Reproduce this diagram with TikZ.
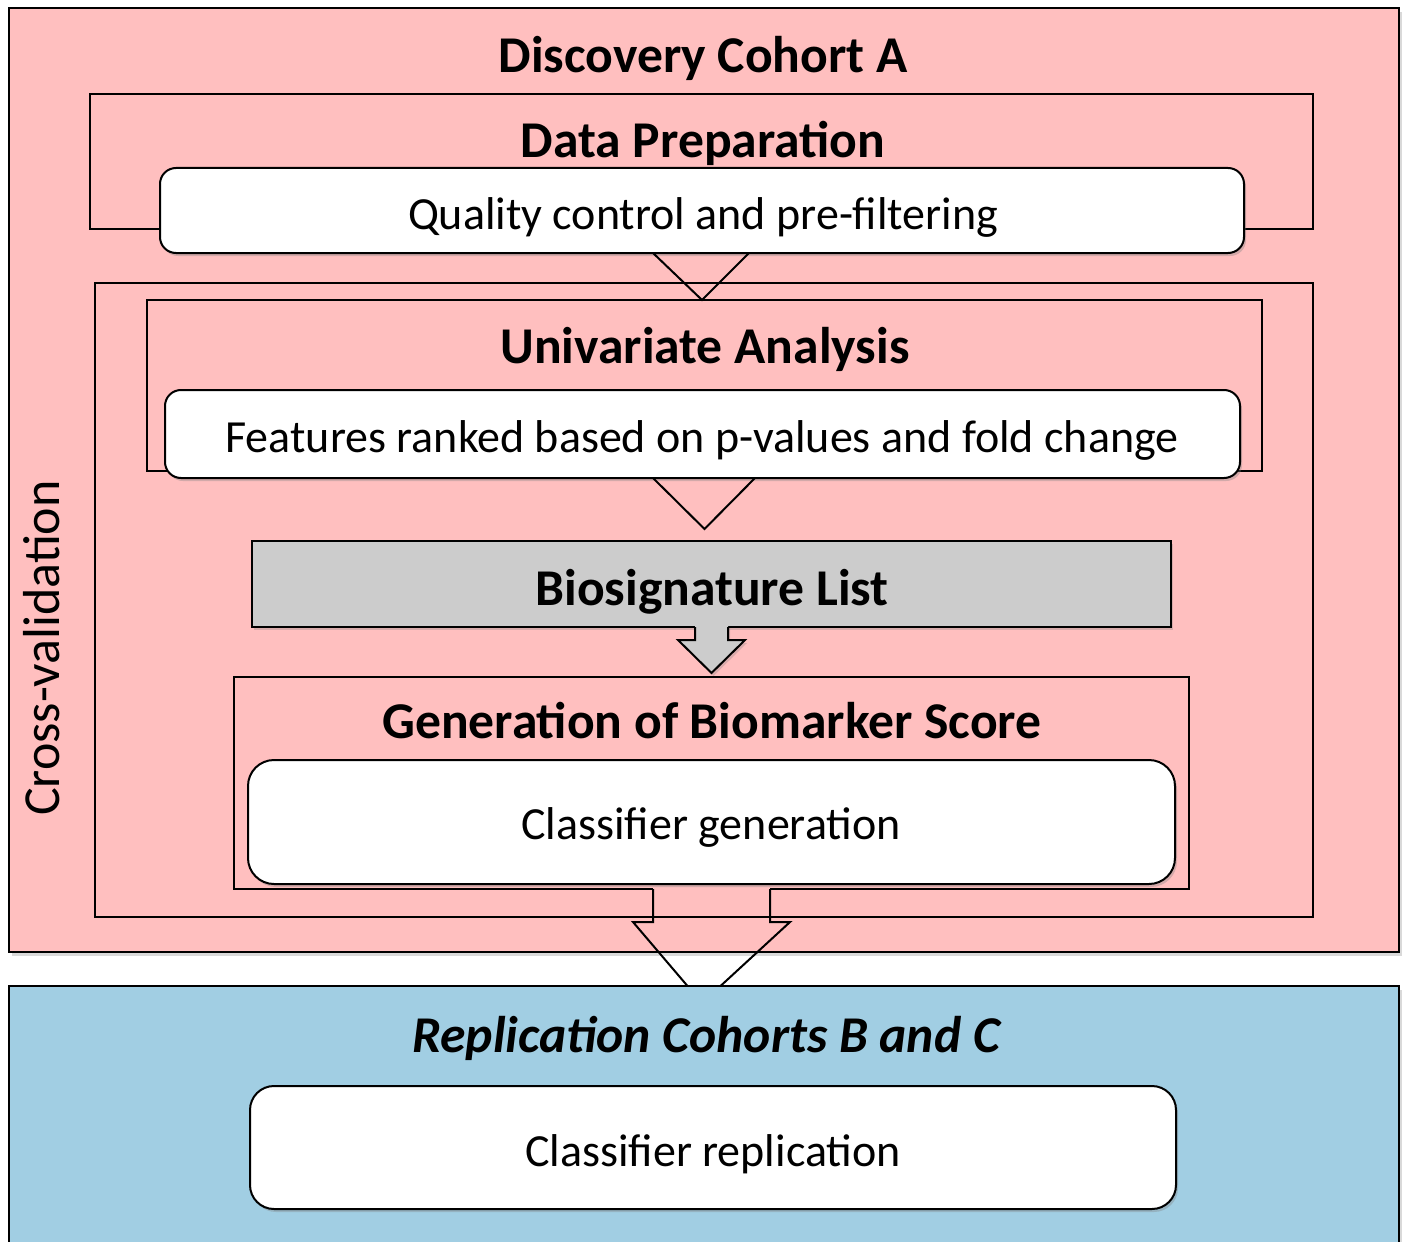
\documentclass[tikz,border=0pt]{standalone}
\usepackage{fontspec}
\setmainfont{Carlito}
\usetikzlibrary{shadows,calc}
\definecolor{pinkA}{RGB}{255,191,191}
\definecolor{blueB}{RGB}{161,206,227}
\definecolor{grayC}{RGB}{204,204,204}
\tikzset{
  box/.style={line width=2pt, inner sep=0pt, outer sep=0pt, anchor=north west},
  cohortbox/.style={box, draw=black, drop shadow={shadow xshift=3pt, shadow yshift=-4pt, opacity=0.3}},
  framebox/.style={box, draw=black, fill=pinkA},
  whitebox/.style={box, draw=black, fill=white, rounded corners=#1,
     drop shadow={shadow xshift=2pt, shadow yshift=-3pt, opacity=0.35}},
  whitebox/.default=16pt,
  biobox/.style={box, draw=black, fill=grayC, drop shadow={shadow xshift=2pt, shadow yshift=-3pt, opacity=0.3}},
  titletext/.style={inner sep=0pt, font=\fontsize{51.6}{60}\selectfont\bfseries, text height=33pt, text depth=0pt},
  bodytext/.style={inner sep=0pt, font=\fontsize{46}{54}\selectfont, text height=29.5pt, text depth=0pt},
  linkline/.style={line width=2pt, line join=miter},
}
\begin{document}
\begin{tikzpicture}[x=1pt, y=-1pt]
\useasboundingbox (0,0) rectangle (1404,1241);
% cohort A
\node[cohortbox, fill=pinkA, minimum width=1390pt, minimum height=944pt] (cohortA) at (9,8) {};
\node[titletext] (titleA) at (703,56) {Discovery Cohort A};
% replication cohort
\node[cohortbox, fill=blueB, minimum width=1390pt, minimum height=300pt] (cohortB) at (9,986) {};
\node[titletext, font=\fontsize{51.6}{60}\selectfont\bfseries\itshape] (titleB) at (706,1036) {Replication Cohorts B and C};
\node[whitebox=24pt, minimum width=926pt, minimum height=123pt] (replbox) at (250,1086) {};
\node[bodytext] (repltext) at (713,1152) {Classifier replication};
% data preparation
\node[framebox, minimum width=1223pt, minimum height=135pt] (dataprep) at (90,94) {};
\node[titletext] (dptitle) at (703,141) {Data Preparation};
\node[whitebox, minimum width=1084pt, minimum height=85pt] (qcbox) at (160,168) {};
\node[bodytext] (qctext) at (703,215) {Quality control and pre-filtering};
% cross-validation
\node[framebox, minimum width=1218pt, minimum height=634pt] (cv) at (95,283) {};
\node[inner sep=0pt, font=\fontsize{52}{60}\selectfont, text height=33.5pt, text depth=0pt, rotate=90] (cvtext) at (43,648) {Cross-validation};
% univariate
\node[framebox, minimum width=1115pt, minimum height=171pt] (uni) at (147,300) {};
\node[titletext] (unititle) at (705,347) {Univariate Analysis};
\node[whitebox, minimum width=1075pt, minimum height=88pt] (featbox) at (165,390) {};
\node[bodytext] (feattext) at (702,438) {Features ranked based on p-values and fold change};
% biosignature
\node[biobox, minimum width=919pt, minimum height=86pt] (bio) at (252,541) {};
\node[titletext] (biotext) at (712,589) {Biosignature List};
% generation
\node[box, fill=pinkA, minimum width=955pt, minimum height=212pt] (gen) at (234,677) {};
\draw[linkline] ($(gen.south)+(-58.5,0)$) -- (gen.south west) -- (gen.north west) -- (gen.north east) -- (gen.south east) -- ($(gen.south)+(58.5,0)$);
\node[titletext] (gentitle) at (712,722) {Generation of Biomarker Score};
\node[whitebox=26pt, minimum width=927pt, minimum height=124pt] (genbox) at (248,760) {};
\node[bodytext] (gentext) at (711,825) {Classifier generation};
% chevron data prep -> univariate
\draw[linkline] ($(qcbox.south)+(-49,0)$) -- ($(qcbox.south)+(0,47)$) -- ($(qcbox.south)+(47,0)$);
% chevron features -> biosignature
\draw[linkline] ($(featbox.south)+(-49.5,0)$) -- ($(featbox.south)+(2,51)$) -- ($(featbox.south)+(52.5,0)$);
% biosignature arrow -> generation
\fill[grayC, drop shadow={shadow xshift=2pt, shadow yshift=-3pt, opacity=0.3}] ($(bio.south)+(-16.5,-2)$) -- ($(bio.south)+(-16.5,13)$) -- ($(bio.south)+(-33.5,13)$) -- ($(bio.south)+(0,46)$) -- ($(bio.south)+(33.5,13)$) -- ($(bio.south)+(16.5,13)$) -- ($(bio.south)+(16.5,-2)$) -- cycle;
\draw[linkline] ($(bio.south)+(-16.5,0)$) -- ($(bio.south)+(-16.5,13)$) -- ($(bio.south)+(-33.5,13)$) -- ($(bio.south)+(0,46)$) -- ($(bio.south)+(33.5,13)$) -- ($(bio.south)+(16.5,13)$) -- ($(bio.south)+(16.5,0)$);
% generation -> replication arrow
\draw[linkline] ($(gen.south)+(-58.5,0)$) -- ($(gen.south)+(-58.5,33)$) -- ($(gen.south)+(-78.5,33)$) -- ($(cohortB.north)+(-16.5,0)$);
\draw[linkline] ($(gen.south)+(58.5,0)$) -- ($(gen.south)+(58.5,33)$) -- ($(gen.south)+(78.5,33)$) -- ($(cohortB.north)+(16.5,0)$);
\end{tikzpicture}
\end{document}
